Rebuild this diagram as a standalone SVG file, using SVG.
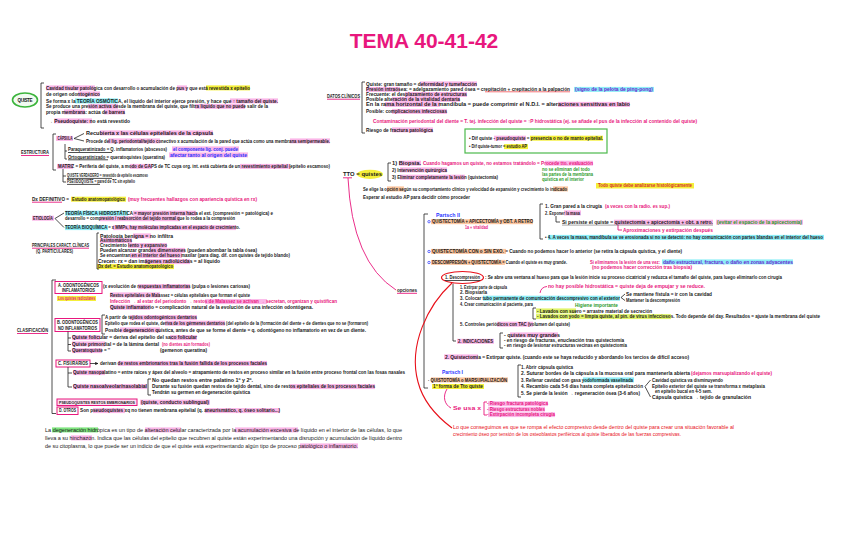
<svg xmlns="http://www.w3.org/2000/svg" width="848" height="549" viewBox="0 0 848 549">
<defs>
<marker id="ah" markerWidth="4" markerHeight="4" refX="3.5" refY="2" orient="auto"><path d="M0,0 L4,2 L0,4 z" fill="#222"/></marker>
<style>
text{font-family:"Liberation Sans",Arial,sans-serif;font-size:4.6px;font-weight:bold;fill:#1a1a1a}
.title{font-size:21px;fill:#e8177d}
.m{fill:#e8177d}
.b{fill:#2a35ff}
.g{fill:#2a9a2a}
.r{fill:#e8101a;font-weight:normal}
.pu{fill:#6a2ad0}
.n{font-weight:normal}
.sm{font-size:3.5px}
.hp{fill:#fbb6e8}
.hy{fill:#f5ef3a}
.hc{fill:#8eeef7}
.ho{fill:#fcc6a0}
.hg{fill:#7fe57f}
.hl{fill:#dff36a}
.ln{fill:none;stroke:#222;stroke-width:0.8}
.mg{fill:none;stroke:#e8177d;stroke-width:0.9}
.box{fill:none;stroke:#e8177d;stroke-width:1}
</style>
</defs>
<rect width="848" height="549" fill="#ffffff"/>

<g id="title"><text x="424" y="48" text-anchor="middle" class="title">TEMA 40-41-42</text></g>

<g id="quiste">
<ellipse cx="25" cy="100" rx="12.5" ry="7" fill="#f2fbf2" stroke="#3cb43c" stroke-width="1.6"/>
<text x="25" y="101.6" text-anchor="middle" textLength="15">QUISTE</text>
<rect class="hp" x="46" y="85.4" width="49" height="5"/><rect class="hp" x="177" y="85.4" width="10" height="5"/><rect class="hy" x="206" y="85.4" width="44" height="5"/>
<text x="46" y="89.6" textLength="204" lengthAdjust="spacingAndGlyphs">Cavidad tisular patológica con desarrollo o acumulación de pus y que está revestida x epitelio</text>
<rect class="hp" x="78" y="91.4" width="22" height="5"/>
<text x="46" y="95.6" textLength="54" lengthAdjust="spacingAndGlyphs">de origen odontogénico</text>
<rect class="hc" x="75" y="98.4" width="43" height="5"/><rect class="hp" x="230" y="98.4" width="48" height="5"/>
<text x="46" y="102.6" textLength="232" lengthAdjust="spacingAndGlyphs">Se forma x la TEORÍA OSMÓTICA, el líquido del interior ejerce presión, y hace que ↑ tamaño del quiste.</text>
<rect class="hp" x="88" y="103.9" width="30" height="5"/><rect class="hp" x="195" y="103.9" width="50" height="5"/>
<text x="46" y="108.1" textLength="222" lengthAdjust="spacingAndGlyphs">Se produce una presión activa desde la membrana del quiste, que filtra líquido que no puede salir de la</text>
<rect class="hp" x="64" y="109.4" width="21" height="5"/><rect class="hp" x="104" y="109.4" width="21" height="5"/>
<text x="46" y="113.6" textLength="79" lengthAdjust="spacingAndGlyphs">propia membrana: actúa de barrera</text>
<rect class="hp" x="54" y="118.4" width="38" height="5"/>
<text x="48" y="122.6" textLength="82" lengthAdjust="spacingAndGlyphs">→ Pseudoquiste: no está revestido</text>
</g>

<g id="estructura">
<text x="21" y="153.6" textLength="28" lengthAdjust="spacingAndGlyphs">ESTRUCTURA</text>
<rect class="hp" x="56" y="135.9" width="17" height="5"/>
<text x="57.5" y="140.1" textLength="15" lengthAdjust="spacingAndGlyphs">CÁPSULA</text>
<rect class="hp" x="100" y="130.4" width="113" height="5"/>
<text x="86" y="134.6" textLength="127" lengthAdjust="spacingAndGlyphs">Recubierta x las células epiteliales de la cápsula</text>
<rect class="hp" x="108" y="138.4" width="52" height="5"/><rect class="hp" x="290" y="138.4" width="40" height="5"/>
<text x="86" y="142.6" textLength="244" lengthAdjust="spacingAndGlyphs">Procede del lig. periodontal/tejido conectivo x acumulación de la pared que actúa como una membrana semipermeable.</text>
<text x="68" y="151.3" textLength="99" lengthAdjust="spacingAndGlyphs">Paraqueratinizado = Q. inflamatorios (abscesos)</text>
<text x="68" y="158.6" textLength="97" lengthAdjust="spacingAndGlyphs">Ortoqueratinizado = queratoquistes (queratina)</text>
<rect class="hp" x="172" y="146.4" width="67" height="5"/><rect class="hp" x="169" y="152.4" width="79" height="5"/>
<text class="b" x="173" y="150.6" textLength="65" lengthAdjust="spacingAndGlyphs">el componente lig. conj. puede</text>
<text class="b" x="170" y="156.6" textLength="77" lengthAdjust="spacingAndGlyphs">afectar tanto al origen del quiste</text>
<rect class="hp" x="57" y="163.9" width="16" height="5"/><rect class="hp" x="130" y="163.9" width="22" height="5"/><rect class="hp" x="240" y="163.9" width="50" height="5"/>
<text x="58" y="168.1" textLength="272" lengthAdjust="spacingAndGlyphs">MATRIZ = Periferia del quiste, a modo de GAPS de TC cuya org. int. está cubierta de un revestimiento epitelial (epitelio escamoso)</text>
<text x="67" y="177.3" textLength="81" lengthAdjust="spacingAndGlyphs">QUISTE VERDADERO = revestido de epitelio escamoso</text>
<text x="67" y="183.3" textLength="68" lengthAdjust="spacingAndGlyphs">PSEUDOQUISTE = pared de TC sin epitelio</text>
</g>

<g id="dx">
<text x="32" y="200.9" textLength="37" lengthAdjust="spacingAndGlyphs">Dx DEFINITIVO =</text>
<rect class="hy" x="71" y="196.7" width="55" height="5"/>
<text x="72" y="200.9" textLength="53" lengthAdjust="spacingAndGlyphs">Estudio anatomopatológico</text>
<text class="m" x="128" y="200.9" textLength="129" lengthAdjust="spacingAndGlyphs">(muy frecuentes hallazgos con apariencia quística en rx)</text>
</g>

<g id="etiologia">
<rect class="hp" x="32" y="215.7" width="22" height="5"/>
<text x="33" y="219.9" textLength="20" lengthAdjust="spacingAndGlyphs">ETIOLOGÍA</text>
<rect class="hc" x="65" y="210.7" width="63" height="5"/><rect class="hp" x="133" y="210.7" width="63" height="5"/>
<text x="65" y="214.9" textLength="208" lengthAdjust="spacingAndGlyphs">TEORÍA FÍSICA HIDROSTÁTICA = mayor presión interna hacia el ext. (compresión = patológica) e</text>
<rect class="hp" x="100" y="216.2" width="80" height="5"/>
<text x="65" y="220.4" textLength="170" lengthAdjust="spacingAndGlyphs">desarrollo = compresión / reabsorción del tejido normal que lo rodea a la compresión</text>
<rect class="hc" x="65" y="225.1" width="43" height="5"/><rect class="hp" x="113" y="225.1" width="123" height="5"/>
<text x="65" y="229.3" textLength="175" lengthAdjust="spacingAndGlyphs">TEORÍA BIOQUÍMICA = x MMPs, hay moléculas implicadas en el espacio de crecimiento.</text>
</g>

<g id="caracteristicas">
<text x="32" y="246.6" textLength="57" lengthAdjust="spacingAndGlyphs">PRINCIPALES CARACT. CLÍNICAS</text>
<text x="36" y="252.6" textLength="37" lengthAdjust="spacingAndGlyphs">(Q. PARTICULARES)</text>
<rect class="hp" x="133" y="233.4" width="18" height="5"/>
<text x="100" y="237.6" textLength="73" lengthAdjust="spacingAndGlyphs">Patología benigna = no infiltra</text>
<rect class="hp" x="100" y="238.1" width="32" height="5"/>
<text x="100" y="242.3" textLength="32" lengthAdjust="spacingAndGlyphs">Asintomáticos</text>
<rect class="hp" x="128" y="243.1" width="39" height="5"/>
<text x="100" y="247.3" textLength="67" lengthAdjust="spacingAndGlyphs">Crecimiento lento y expansivo</text>
<rect class="hp" x="150" y="247.9" width="35" height="5"/>
<text x="100" y="252.1" textLength="157" lengthAdjust="spacingAndGlyphs">Pueden alcanzar grandes dimensiones (pueden abombar la tabla ósea)</text>
<rect class="hp" x="130" y="252.9" width="52" height="5"/>
<text x="100" y="257.1" textLength="190" lengthAdjust="spacingAndGlyphs">Se encuentran en el interior del hueso maxilar (para diag. dif. con quistes de tejido blando)</text>
<rect class="hp" x="145" y="259.1" width="45" height="5"/>
<text x="98" y="263.3" textLength="122" lengthAdjust="spacingAndGlyphs">Crecen: rx = dan imágenes radiolúcidas = al líquido</text>
<rect class="hy" x="97" y="264.1" width="77" height="5"/>
<text x="98" y="268.3" textLength="75" lengthAdjust="spacingAndGlyphs">Dx def. = Estudio anatomopatológico</text>
</g>

<g id="clasificacion">
<text x="17" y="331.6" textLength="31" lengthAdjust="spacingAndGlyphs">CLASIFICACIÓN</text>
<rect class="box" x="55" y="281.5" width="47" height="12"/>
<text x="58" y="287.3" textLength="41" lengthAdjust="spacingAndGlyphs">A. ODONTOGÉNICOS</text>
<text x="62" y="292.1" textLength="33" lengthAdjust="spacingAndGlyphs">INFLAMATORIOS</text>
<rect class="hp" x="138" y="284.1" width="52" height="5"/>
<text x="103" y="288.3" textLength="147" lengthAdjust="spacingAndGlyphs">(x evolución de respuestas inflamatorias (pulpa o lesiones cariosas)</text>
<rect class="hy" x="57" y="296" width="39" height="5"/>
<text class="m" x="58" y="300.2" textLength="37" lengthAdjust="spacingAndGlyphs">Los quistes radiculares</text>
<rect class="hp" x="110" y="292.4" width="50" height="5"/>
<text x="110" y="296.6" textLength="140" lengthAdjust="spacingAndGlyphs">Restos epiteliales de Malassez = células epiteliales que forman el quiste</text>
<rect class="hp" x="205" y="299.1" width="62" height="5"/>
<text class="m" x="110" y="303.3" textLength="227" lengthAdjust="spacingAndGlyphs">Infección → al estar del periodonto → restos de Malassez se activan → secretan, organizan y quistifican</text>
<rect class="hp" x="110" y="304.7" width="40" height="5"/>
<text x="110" y="308.9" textLength="203" lengthAdjust="spacingAndGlyphs">Quiste inflamatorio = complicación natural de la evolución de una infección odontógena.</text>

<rect class="box" x="55" y="318.5" width="45" height="13"/>
<text x="57" y="324.1" textLength="41" lengthAdjust="spacingAndGlyphs">B. ODONTOGÉNICOS</text>
<text x="58" y="329.6" textLength="39" lengthAdjust="spacingAndGlyphs">NO INFLAMATORIOS</text>
<rect class="hp" x="130" y="315.1" width="67" height="5"/>
<text x="105" y="319.3" textLength="92" lengthAdjust="spacingAndGlyphs">A partir de tejidos odontogénicos dentarios</text>
<rect class="hp" x="165" y="320.7" width="60" height="5"/>
<text x="105" y="324.9" textLength="263" lengthAdjust="spacingAndGlyphs">Epitelio que rodea el quiste, deriva de los gérmenes dentarios (del epitelio de la (formación del diente + de dientes que no se (formaron)</text>
<rect class="hp" x="120" y="327.4" width="40" height="5"/>
<text x="105" y="331.6" textLength="261" lengthAdjust="spacingAndGlyphs">Posible degeneración quística, antes de que se forme el diente = q. odontógeno no inflamatorio en vez de un diente.</text>
<rect class="hp" x="72" y="335.1" width="28" height="5"/><rect class="hp" x="170" y="335.1" width="27" height="5"/>
<text x="72" y="339.3" textLength="125" lengthAdjust="spacingAndGlyphs">Quiste folicular = deriva del epitelio del saco folicular</text>
<rect class="hp" x="72" y="341.4" width="33" height="5"/>
<text x="72" y="345.6" textLength="87" lengthAdjust="spacingAndGlyphs">Quiste primordial = de la lámina dental</text>
<text class="m" x="162" y="345.6" textLength="48" lengthAdjust="spacingAndGlyphs">(no dientes aún formados)</text>
<rect class="hp" x="72" y="348.1" width="30" height="5"/>
<text x="72" y="352.3" textLength="38" lengthAdjust="spacingAndGlyphs">Queratoquiste = ''</text>
<text x="160" y="352.3" textLength="47" lengthAdjust="spacingAndGlyphs">(gemenon queratina)</text>

<rect class="box" x="56" y="360" width="34" height="7"/>
<text x="58" y="365.1" textLength="30" lengthAdjust="spacingAndGlyphs">C. FISURARIOS</text>
<rect class="hp" x="118" y="360.9" width="149" height="5"/>
<text x="100" y="365.1" textLength="167" lengthAdjust="spacingAndGlyphs">derivan de restos embrionarios tras la fusión fallida de los procesos faciales</text>
<rect class="hp" x="73" y="370.1" width="32" height="5"/>
<text x="73" y="374.3" textLength="332" lengthAdjust="spacingAndGlyphs">Quiste nasopalatino = entre raíces y ápex del alveolo = atrapamiento de restos en proceso similar en la fusión entre proceso frontal con las fosas nasales</text>
<rect class="hp" x="73" y="384.1" width="74" height="5"/>
<text x="73" y="388.3" textLength="74" lengthAdjust="spacingAndGlyphs">Quiste nasoalveolar/nasolabial</text>
<text x="152" y="381.6" textLength="101" lengthAdjust="spacingAndGlyphs">No quedan restos entre palatino 1º y 2º.</text>
<rect class="hp" x="290" y="384.1" width="85" height="5"/>
<text x="152" y="388.3" textLength="223" lengthAdjust="spacingAndGlyphs">Durante su fusión quedan restos de tejido dental, sino de restos epiteliales de los procesos faciales</text>
<text x="152" y="393.9" textLength="98" lengthAdjust="spacingAndGlyphs">Tendrán su germen en degeneración quística</text>

<rect x="57" y="399" width="80" height="6.5" fill="#fde0f4" stroke="#e8177d" stroke-width="1"/>
<text class="sm" x="59" y="403.6" textLength="76" lengthAdjust="spacingAndGlyphs">PSEUDOQUISTES RESTOS EMBRIONARIOS</text>
<rect class="hp" x="140" y="399.7" width="70" height="5"/>
<text x="141" y="403.9" textLength="68" lengthAdjust="spacingAndGlyphs">(quiste, conducto sublingual)</text>
<rect class="box" x="57" y="407" width="21" height="7.5"/>
<text x="59" y="412.3" textLength="17" lengthAdjust="spacingAndGlyphs">D. OTROS</text>
<rect class="hp" x="93" y="408.1" width="32" height="5"/><rect class="hp" x="205" y="408.1" width="75" height="5"/>
<text x="80" y="412.3" textLength="200" lengthAdjust="spacingAndGlyphs">Son pseudoquistes xq no tienen membrana epitelial (q. aneurismático, q. óseo solitario...)</text>
</g>

<g id="hidropica">
<rect class="hg" x="52" y="427.4" width="46" height="5"/><rect class="hp" x="145" y="427.4" width="36" height="5"/><rect class="hp" x="235" y="427.4" width="63" height="5"/>
<text class="n" x="45" y="431.6" textLength="357" lengthAdjust="spacingAndGlyphs">La degeneración hidrópica es un tipo de alteración celular caracterizada por la acumulación excesiva de líquido en el interior de las células, lo que</text>
<rect class="hp" x="71" y="435.4" width="21" height="5"/>
<text class="n" x="45" y="439.6" textLength="357" lengthAdjust="spacingAndGlyphs">lleva a su hinchazón. Indica que las células del epitelio que recubren al quiste están experimentando una disrupción y acumulación de líquido dentro</text>
<rect class="hp" x="300" y="443.4" width="58" height="5"/>
<text class="n" x="45" y="447.6" textLength="313" lengthAdjust="spacingAndGlyphs">de su citoplasma, lo que puede ser un indicio de que el quiste está experimentando algún tipo de proceso patológico o inflamatorio.</text>
</g>

<g id="datos-clinicos">
<text x="327" y="97.6" textLength="33" lengthAdjust="spacingAndGlyphs">DATOS CLÍNICOS</text>
<rect class="hp" x="420" y="81.4" width="57" height="5"/>
<text x="366" y="85.6" textLength="111" lengthAdjust="spacingAndGlyphs">Quiste: gran tamaño = deformidad y tumefacción</text>
<rect class="hp" x="366" y="86.9" width="34" height="5"/><rect class="hc" x="574" y="86.9" width="80" height="5"/>
<text x="366" y="91.1" textLength="204" lengthAdjust="spacingAndGlyphs">Presión intraósea: = adelgazamiento pared ósea = crepitación + crepitación a la palpación</text>
<text class="pu" x="575" y="91.1" textLength="78" lengthAdjust="spacingAndGlyphs">(signo de la pelota de ping-pong)</text>
<rect class="hp" x="405" y="91.9" width="62" height="5"/>
<text x="366" y="96.1" textLength="101" lengthAdjust="spacingAndGlyphs">Frecuente: el desplazamiento de estructuras</text>
<rect class="hp" x="392" y="96.9" width="68" height="5"/>
<text x="366" y="101.1" textLength="94" lengthAdjust="spacingAndGlyphs">Posible alteración de la vitalidad dentaria</text>
<rect class="hp" x="385" y="101.9" width="55" height="5"/><rect class="hp" x="558" y="101.9" width="72" height="5"/>
<text x="366" y="106.1" textLength="264" lengthAdjust="spacingAndGlyphs">En la rama horizontal de la mandíbula = puede comprimir el N.D.I. = alteraciones sensitivas en labio</text>
<rect class="hp" x="392" y="108.9" width="55" height="5"/>
<text x="366" y="113.1" textLength="81" lengthAdjust="spacingAndGlyphs">Posible: complicaciones infecciosas</text>
<text class="m" x="373" y="123.1" textLength="324" lengthAdjust="spacingAndGlyphs">Contaminación periodontal del diente = T. tej. infección del quiste = ↑P hidrostática (ej. se añade el pus de la infección al contenido del quiste)</text>
<rect class="hp" x="392" y="127.4" width="41" height="5"/>
<text x="366" y="131.6" textLength="67" lengthAdjust="spacingAndGlyphs">Riesgo de fractura patológica</text>
</g>

<g id="diferencias">
<rect x="465" y="129" width="142" height="24" fill="none" stroke="#4cba4c" stroke-width="1.2"/>
<rect class="hp" x="494" y="135.7" width="32" height="5"/><rect class="hy" x="530" y="135.7" width="73" height="5"/>
<text x="469" y="139.9" textLength="134" lengthAdjust="spacingAndGlyphs">• Dif quiste - pseudoquiste = presencia o no de manto epitelial.</text>
<rect class="hy" x="504" y="144.1" width="24" height="5"/>
<text x="469" y="148.3" textLength="58" lengthAdjust="spacingAndGlyphs">• Dif quiste-tumor = estudio AP</text>
</g>

<g id="tto">
<ellipse cx="370" cy="174.3" rx="13" ry="4.6" fill="#f5ef3a"/>
<text x="343" y="175.9" textLength="39" lengthAdjust="spacingAndGlyphs">TTO = quistes</text>
<rect class="hp" x="399" y="160.7" width="22" height="5"/><rect class="hp" x="545" y="160.7" width="48" height="5"/>
<text x="392" y="164.9" textLength="29" lengthAdjust="spacingAndGlyphs">1) Biopsia.</text>
<text class="m" x="423" y="164.9" textLength="170" lengthAdjust="spacingAndGlyphs">Cuando hagamos un quiste, no estamos tratándolo = Procede tto. evaluación</text>
<rect class="hp" x="400" y="167.4" width="47" height="5"/>
<text x="392" y="171.6" textLength="55" lengthAdjust="spacingAndGlyphs">2) Intervención quirúrgica</text>
<rect class="hp" x="400" y="174.7" width="65" height="5"/>
<text x="392" y="178.9" textLength="106" lengthAdjust="spacingAndGlyphs">3) Eliminar completamente la lesión (quistectomía)</text>
<text class="g" x="542" y="170.6" textLength="48" lengthAdjust="spacingAndGlyphs">no se eliminan del todo</text>
<text class="g" x="542" y="175.6" textLength="51" lengthAdjust="spacingAndGlyphs">las partes de la membrana</text>
<text class="g" x="542" y="180.6" textLength="42" lengthAdjust="spacingAndGlyphs">quística en el interior</text>
<rect class="hy" x="596" y="183" width="98" height="5.5"/>
<text x="598" y="187.3" textLength="94" lengthAdjust="spacingAndGlyphs" style="fill:#d42a2a">Todo quiste debe analizarse histológicamente</text>
<rect class="ho" x="387" y="186.4" width="17" height="5"/><rect class="ho" x="553" y="186.4" width="15" height="5"/>
<text x="363" y="190.6" textLength="204" lengthAdjust="spacingAndGlyphs">Se elige la opción según su comportamiento clínico y velocidad de expansión y crecimiento lo indicado</text>
<text x="363" y="199.3" textLength="107" lengthAdjust="spacingAndGlyphs">Esperar al estudio AP para decidir cómo proceder</text>
</g>

<g id="opciones">
<text x="397" y="291.6" textLength="20" lengthAdjust="spacingAndGlyphs">opciones</text>
</g>

<g id="partsch2">
<text class="b" x="436" y="216.6" textLength="24" lengthAdjust="spacingAndGlyphs">Partsch II</text>
<rect class="ho" x="431" y="219.2" width="102" height="5"/>
<text x="432" y="223.3" textLength="101" lengthAdjust="spacingAndGlyphs">QUISTECTOMÍA + APICECTOMÍA y OBT. A RETRO</text>
<text class="m" x="465" y="228.6" textLength="23" lengthAdjust="spacingAndGlyphs">1a + vitalidad</text>
<text x="545" y="207.6" textLength="57" lengthAdjust="spacingAndGlyphs">1. Gran pared a la cirugía</text>
<text class="m" x="605" y="207.6" textLength="65" lengthAdjust="spacingAndGlyphs">(a veces con la radio. es sup.)</text>
<rect class="hp" x="564" y="210.4" width="17" height="5"/>
<text x="545" y="214.6" textLength="35" lengthAdjust="spacingAndGlyphs">2. Exponer la masa</text>
<rect class="hp" x="614" y="219.7" width="99" height="5"/><rect class="hp" x="716" y="219.7" width="87" height="5"/>
<text x="562" y="223.9" textLength="151" lengthAdjust="spacingAndGlyphs">Si persiste el quiste = quistectomía + apicectomía + obt. a retro.</text>
<text class="g" x="717" y="223.9" textLength="85" lengthAdjust="spacingAndGlyphs">(evitar el espacio de la apicectomía)</text>
<text class="m" x="623" y="231.6" textLength="90" lengthAdjust="spacingAndGlyphs">Aproximaciones y extirpación después</text>
<rect class="hc" x="548" y="234.9" width="276" height="5"/>
<text x="545" y="239.1" textLength="278" lengthAdjust="spacingAndGlyphs">• 4. A veces la masa, mandíbula se ve erosionada si no se detectó: no hay comunicación con partes blandas en el interior del hueso</text>
</g>

<g id="quistectomia">
<rect class="ho" x="431" y="248.9" width="75" height="5"/>
<text x="432" y="253.1" textLength="250" lengthAdjust="spacingAndGlyphs">QUISTECTOMÍA CON o SIN EXO. = Cuando no podemos hacer lo anterior (se retira la cápsula quística, y el diente)</text>
</g>

<g id="descompresion">
<rect class="ho" x="431" y="259.9" width="74" height="5"/>
<text x="432" y="264.1" textLength="135" lengthAdjust="spacingAndGlyphs">DESCOMPRESIÓN + QUISTECTOMÍA = Cuando el quiste es muy grande.</text>
<text class="m" x="590" y="263.6" textLength="70" lengthAdjust="spacingAndGlyphs">Si eliminamos la lesión de una vez:</text>
<rect class="hc" x="662" y="259.4" width="131" height="5"/>
<text class="pu" x="663" y="263.6" textLength="130" lengthAdjust="spacingAndGlyphs">daño estructural, fractura, o daño en zonas adyacentes</text>
<text class="m" x="592" y="269.1" textLength="100" lengthAdjust="spacingAndGlyphs">(no podemos hacer corrección tras biopsia)</text>
<text x="445" y="279.3" textLength="35" lengthAdjust="spacingAndGlyphs">1. Descompresión</text>
<text x="485" y="279.3" textLength="297" lengthAdjust="spacingAndGlyphs">: Se abre una ventana al hueso para que la lesión inicie su proceso cicatricial y reduzca el tamaño del quiste, para luego eliminarlo con cirugía</text>
<text x="460" y="288.9" textLength="47" lengthAdjust="spacingAndGlyphs">1. Extirpar parte de cápsula</text>
<text class="m" x="548" y="288.3" textLength="157" lengthAdjust="spacingAndGlyphs">no hay posible hidrostática = quiste deja de empujar y se reduce.</text>
<text x="460" y="294.3" textLength="27" lengthAdjust="spacingAndGlyphs">2. Biopsiarla</text>
<rect class="hc" x="483" y="295.7" width="137" height="5"/>
<text x="460" y="299.9" textLength="160" lengthAdjust="spacingAndGlyphs">3. Colocar tubo permanente de comunicación descompresivo con el exterior</text>
<text x="626" y="295.9" textLength="86" lengthAdjust="spacingAndGlyphs">Se mantiene fístula = ir con la cavidad</text>
<text x="626" y="301.6" textLength="54" lengthAdjust="spacingAndGlyphs">Mantener la descompresión</text>
<text x="460" y="305.9" textLength="73" lengthAdjust="spacingAndGlyphs">4. Crear comunicación al paciente, para</text>
<text class="g" x="575" y="307.3" textLength="43" lengthAdjust="spacingAndGlyphs">Higiene importante</text>
<rect class="hl" x="536" y="308.4" width="40" height="5"/>
<text x="537" y="312.6" textLength="115" lengthAdjust="spacingAndGlyphs">- Lavados con suero = arrastre material de secreción</text>
<rect class="hl" x="536" y="314.1" width="135" height="5"/>
<text x="537" y="318.3" textLength="283" lengthAdjust="spacingAndGlyphs">- Lavados con yodo = limpia quiste, al pin. de virus infecciosos. Todo depende del day. Resultados = ajuste la membrana del quiste</text>
<rect class="hp" x="497" y="321.7" width="36" height="5"/>
<text x="460" y="325.9" textLength="110" lengthAdjust="spacingAndGlyphs">5. Controles periódicos con TAC (volumen del quiste)</text>
<rect class="hp" x="510" y="332.4" width="48" height="5"/>
<text x="504" y="336.6" textLength="56" lengthAdjust="spacingAndGlyphs">- quistes muy grandes</text>
<rect class="hp" x="457" y="338.8" width="37" height="5"/>
<text x="458" y="343" textLength="35" lengthAdjust="spacingAndGlyphs">2. INDICACIONES</text>
<text x="504" y="341.9" textLength="120" lengthAdjust="spacingAndGlyphs">- en riesgo de fracturas, enucleación tras quistectomía</text>
<text x="504" y="347.2" textLength="123" lengthAdjust="spacingAndGlyphs">- en riesgo de lesionar estructuras vecinas en quistectomía</text>
<rect class="hp" x="444" y="354.4" width="34" height="5"/>
<text x="445" y="358.6" textLength="244" lengthAdjust="spacingAndGlyphs">2. Quistectomía = Extirpar quiste. (cuando este se haya reducido y abordando los tercios de difícil acceso)</text>
</g>

<g id="partsch1">
<text class="b" x="442" y="373.6" textLength="21" lengthAdjust="spacingAndGlyphs">Partsch I</text>
<rect class="ho" x="431" y="377.4" width="77" height="5"/>
<text x="428" y="381.6" textLength="79" lengthAdjust="spacingAndGlyphs">· QUISTOTOMÍA o MARSUPIALIZACIÓN</text>
<rect class="hy" x="432" y="384" width="52" height="5"/>
<text x="433" y="388.2" textLength="50" lengthAdjust="spacingAndGlyphs">1ª forma de Tto quiste</text>
<text x="521" y="369.1" textLength="52" lengthAdjust="spacingAndGlyphs">1. Abrir cápsula quística</text>
<text x="521" y="374.6" textLength="169" lengthAdjust="spacingAndGlyphs">2. Suturar bordes de la cápsula a la mucosa oral para mantenerla abierta</text>
<text class="m" x="691" y="374.6" textLength="81" lengthAdjust="spacingAndGlyphs">(dejamos marsupializando el quiste)</text>
<rect class="hc" x="583" y="377.4" width="51" height="5"/>
<text x="521" y="381.6" textLength="112" lengthAdjust="spacingAndGlyphs">3. Rellenar cavidad con gasa yodoformada vaselinada</text>
<text x="521" y="387.6" textLength="122" lengthAdjust="spacingAndGlyphs">4. Recambio cada 5-6 días hasta completa epitelización</text>
<text x="521" y="394.6" textLength="119" lengthAdjust="spacingAndGlyphs">5. Se pierde la lesión → regeneración ósea (3-6 años)</text>
<text x="652" y="381.6" textLength="71" lengthAdjust="spacingAndGlyphs">Cavidad quística va disminuyendo</text>
<text x="652" y="387.6" textLength="113" lengthAdjust="spacingAndGlyphs">Epitelio exterior del quiste se transforma x metaplasia</text>
<text x="655" y="393.1" textLength="57" lengthAdjust="spacingAndGlyphs">en epitelio bucal en 4-5 sem.</text>
<text x="652" y="399.1" textLength="99" lengthAdjust="spacingAndGlyphs">Cápsula quística → tejido de granulación</text>
<text class="m" x="453" y="409.6" textLength="28" lengthAdjust="spacingAndGlyphs">Se usa x</text>
<rect class="hp" x="488" y="401.3" width="60" height="4.8"/><rect class="hp" x="488" y="406.8" width="57" height="4.8"/><rect class="hp" x="488" y="412.3" width="67" height="4.8"/>
<text class="m" x="487" y="405.4" textLength="61" lengthAdjust="spacingAndGlyphs">- Riesgo fractura patológica</text>
<text class="m" x="487" y="410.9" textLength="58" lengthAdjust="spacingAndGlyphs">- Riesgo estructuras nobles</text>
<text class="m" x="487" y="416.4" textLength="68" lengthAdjust="spacingAndGlyphs">- Extirpación incompleta cirugía</text>
</g>

<g id="conclusion">
<text class="r" x="453" y="428.6" textLength="281" lengthAdjust="spacingAndGlyphs">Lo que conseguimos es que se rompa el efecto compresivo desde dentro del quiste para crear una situación favorable al</text>
<text class="r" x="453" y="436.1" textLength="228" lengthAdjust="spacingAndGlyphs">crecimiento óseo por tensión de los osteoblastos periféricos al quiste liberados de las fuerzas compresivas.</text>
</g>

<g id="connectors">
<path class="ln" d="M44 83 H41 V128 H44"/>
<path class="ln" d="M56 134 H53 V170 H56"/>
<path class="ln" d="M74 138.5 L84 133.5 M74 138.5 L84 141"/>
<path class="ln" d="M65 144 V159 H67 M65 151 H67"/>
<path class="ln" d="M63 169 V182 H66 M63 176 H66"/>
<path class="ln" d="M68 152.5 H112 M68 159.8 H108 M67 178.4 H112 M67 184.4 H100" stroke-width="0.5"/>
<path class="mg" d="M21 155.5 H49 M32 202.2 H62 M32 248.2 H89 M17 333.5 H48 M327 99.2 H360 M397 293.3 H417"/>
<path class="ln" d="M64 213 L55 218.5 L64 227.5"/>
<path class="ln" d="M99 233 H97 V269 H99"/>
<path class="ln" d="M56 280 H52 V413.5 H56"/>
<path class="ln" d="M105 315 H102 V334 H105"/>
<path class="ln" d="M68 331.5 V351 H71 M68 338 H71 M68 344.5 H71"/>
<path class="ln" d="M90 363.5 H98" marker-end="url(#ah)"/>
<path class="ln" d="M68 367 V387 H72 M68 373 H72"/>
<path class="ln" d="M151 379 H148 V395 H151"/>
<path class="ln" d="M365 82 H362 V133 H365"/>
<path d="M485 91.8 H570" fill="none" stroke="#e8101a" stroke-width="0.6"/>
<path class="ln" d="M391 163 H388 V181 H391"/>
<path class="mg" d="M343 177.8 H352"/>
<path class="mg" d="M348 178 Q352 262 396 290"/>
<path class="ln" d="M428 214 H424 V388 H428"/>
<circle cx="429" cy="221.7" r="1.2" fill="none" stroke="#2a35ff" stroke-width="0.7"/>
<circle cx="429" cy="251.5" r="1.2" fill="none" stroke="#2a35ff" stroke-width="0.7"/>
<circle cx="429" cy="262.5" r="1.2" fill="none" stroke="#2a35ff" stroke-width="0.7"/>
<path class="ln" d="M543 204 H540 V239 H543"/>
<path class="ln" d="M556 216 V222 H560"/>
<path class="mg" d="M618 224.5 V230 H622"/>
<path d="M562 225.1 H713" fill="none" stroke="#222" stroke-width="0.4"/>
<ellipse cx="462.5" cy="277.5" rx="21" ry="6" fill="none" stroke="#e8101a" stroke-width="1.2"/>
<path class="ln" d="M445 280.5 H480" stroke-width="0.4"/>
<path class="ln" d="M453 283.5 V341 H456"/>
<path class="mg" d="M540 293 Q541 287 547 286.5"/>
<path class="ln" d="M625 294 L621 297.5 L625 300.5"/>
<path class="ln" d="M536 308 H533 V319 H536"/>
<path class="ln" d="M503 333 H500 V348 H503"/>
<path class="ln" d="M521 365 H518 V397 H521"/>
<path class="ln" d="M650.5 380 L645 386.5 L650.5 397"/>
<path class="mg" d="M447 389 C442 397 445 405 451 408"/>
<path class="mg" d="M487 402 H484 V415 H487"/>
<path d="M452 283 C428 305 408 345 418 382 C424 405 440 419 452 428" fill="none" stroke="#e8101a" stroke-width="1.1"/>
</g>
</svg>
